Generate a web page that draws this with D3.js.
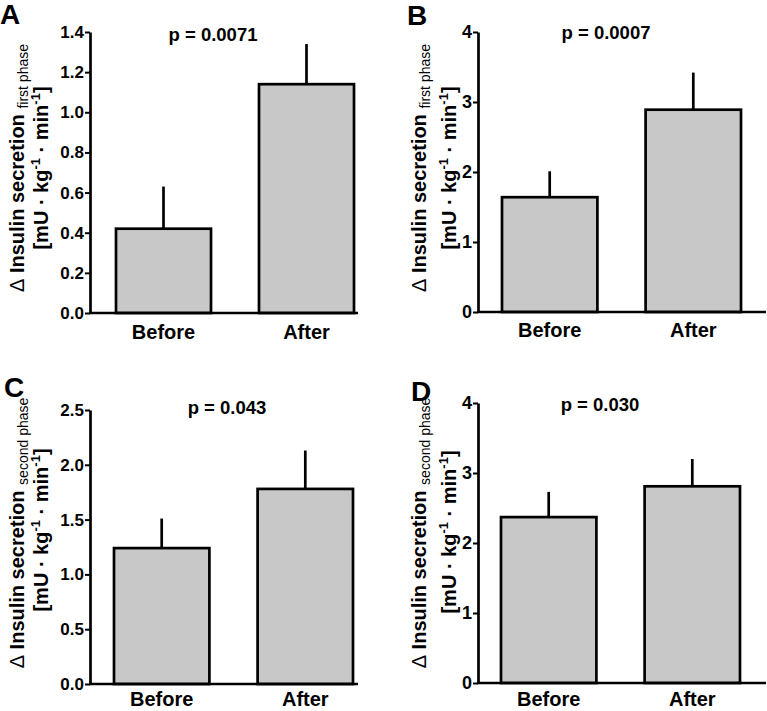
<!DOCTYPE html>
<html>
<head>
<meta charset="utf-8">
<script src="https://cdn.jsdelivr.net/npm/d3@7"></script>
<style>
  html, body { margin: 0; padding: 0; background: #fff; }
  svg { display: block; }
  text { font-family: "Liberation Sans", Arial, Helvetica, sans-serif; fill: #000; }
</style>
</head>
<body>
<svg id="chart" width="767" height="711"></svg>
<script>
// ---------------- data ----------------
const categories = ["Before", "After"];
const panelLetters = ["A", "B", "C", "D"];
const pLabels = ["p = 0.0071", "p = 0.0007", "p = 0.043", "p = 0.030"];
const phaseLabels = ["first phase", "first phase", "second phase", "second phase"];

const meanA = [0.42, 1.14];
const semA  = [0.21, 0.20];
const meanB = [1.64, 2.89];
const semB  = [0.37, 0.53];
const meanC = [1.24, 1.78];
const semC  = [0.27, 0.35];
const meanD = [2.37, 2.81];
const semD  = [0.36, 0.39];

const ticksA = [0.0, 0.2, 0.4, 0.6, 0.8, 1.0, 1.2, 1.4];
const ticksB = [0, 1, 2, 3, 4];
const ticksC = [0.0, 0.5, 1.0, 1.5, 2.0, 2.5];
const ticksD = [0, 1, 2, 3, 4];

const yMax = [1.4, 4, 2.5, 4];
const tickFormats = [".1f", "d", ".1f", "d"];

// ---------------- layout ----------------
const layouts = [
  { axisX: 90,  yTop: 32,  y0: 313, barL: 116, barR: 354, xEnd: 358, tickFs: 17,
    letterX: 0,   letterY: 24,  pX: 213, pY: 41,  xlabY: 339, l1X: 24,  l2X: 48,  l1Y: 168, l2Y: 168 },
  { axisX: 478, yTop: 32,  y0: 312, barL: 502, barR: 741, xEnd: 766, tickFs: 18,
    letterX: 407, letterY: 25,  pX: 606, pY: 39,  xlabY: 337, l1X: 426, l2X: 456, l1Y: 168, l2Y: 168 },
  { axisX: 90,  yTop: 410, y0: 684, barL: 114, barR: 353, xEnd: 358, tickFs: 17,
    letterX: 4,   letterY: 397, pX: 227, pY: 414, xlabY: 706, l1X: 24,  l2X: 48,  l1Y: 533, l2Y: 530 },
  { axisX: 478, yTop: 403, y0: 683, barL: 501, barR: 740, xEnd: 766, tickFs: 18,
    letterX: 411, letterY: 401, pX: 600, pY: 411, xlabY: 706, l1X: 426, l2X: 456, l1Y: 533, l2Y: 532 }
];

const means = [meanA, meanB, meanC, meanD];
const sems = [semA, semB, semC, semD];
const tickSets = [ticksA, ticksB, ticksC, ticksD];

const svg = d3.select("#chart");
const LW = 2.7;

layouts.forEach((L, i) => {
  const g = svg.append("g");
  const y = d3.scaleLinear().domain([0, yMax[i]]).range([L.y0, L.yTop]);
  const x = d3.scaleBand().domain(categories).range([L.barL, L.barR])
    .paddingInner(48 / 143).paddingOuter(0);

  const data = categories.map((c, k) => ({ cat: c, m: means[i][k], s: sems[i][k] }));

  // error bars (upper only)
  g.selectAll("line.err").data(data).enter().append("line")
    .attr("class", "err")
    .attr("x1", d => x(d.cat) + x.bandwidth() / 2)
    .attr("x2", d => x(d.cat) + x.bandwidth() / 2)
    .attr("y1", d => y(d.m))
    .attr("y2", d => y(d.m + d.s))
    .attr("stroke", "#000").attr("stroke-width", LW);

  // bars
  g.selectAll("rect.bar").data(data).enter().append("rect")
    .attr("class", "bar")
    .attr("x", d => x(d.cat))
    .attr("y", d => y(d.m))
    .attr("width", x.bandwidth())
    .attr("height", d => y(0) - y(d.m))
    .attr("fill", "#c8c8c8")
    .attr("stroke", "#000").attr("stroke-width", LW);

  // y axis
  const ax = g.append("g").attr("transform", `translate(${L.axisX},0)`)
    .call(d3.axisLeft(y).tickValues(tickSets[i]).tickFormat(d3.format(tickFormats[i]))
      .tickSize(5).tickSizeOuter(0).tickPadding(1));
  ax.select(".domain").attr("stroke", "#000").attr("stroke-width", LW);
  ax.selectAll(".tick line").attr("stroke", "#000").attr("stroke-width", 2);
  ax.selectAll(".tick text").attr("font-size", L.tickFs).attr("font-weight", "bold")
    .attr("font-family", '"Liberation Sans", Arial, sans-serif').attr("fill", "#000");

  // x baseline
  g.append("line")
    .attr("x1", L.axisX - 1).attr("x2", L.xEnd)
    .attr("y1", y(0)).attr("y2", y(0))
    .attr("stroke", "#000").attr("stroke-width", LW);

  // x labels
  g.selectAll("text.xl").data(categories).enter().append("text")
    .attr("class", "xl")
    .attr("x", d => x(d) + x.bandwidth() / 2)
    .attr("y", L.xlabY)
    .attr("text-anchor", "middle")
    .attr("font-size", 20).attr("font-weight", "bold")
    .text(d => d);

  // p value
  g.append("text")
    .attr("x", L.pX).attr("y", L.pY)
    .attr("text-anchor", "middle")
    .attr("font-size", 18.5).attr("font-weight", "bold")
    .text(pLabels[i]);

  // panel letter
  g.append("text")
    .attr("x", L.letterX).attr("y", L.letterY)
    .attr("font-size", 28).attr("font-weight", "bold")
    .text(panelLetters[i]);

  // y label line 1
  const t1 = g.append("text")
    .attr("transform", `translate(${L.l1X},${L.l1Y}) rotate(-90)`)
    .attr("text-anchor", "middle")
    .attr("font-size", 20).attr("font-weight", "bold");
  t1.append("tspan").attr("font-weight", "normal").text("\u0394");
  t1.append("tspan").text(" Insulin secretion ");
  t1.append("tspan").attr("font-size", 14).attr("font-weight", "normal")
    .attr("dy", 4).text(phaseLabels[i]);

  // y label line 2
  const t2 = g.append("text")
    .attr("transform", `translate(${L.l2X},${L.l2Y}) rotate(-90)`)
    .attr("text-anchor", "middle")
    .attr("font-size", 20).attr("font-weight", "bold");
  t2.append("tspan").text("[mU \u00B7 kg");
  t2.append("tspan").attr("font-size", 13).attr("dy", -8).text("-1");
  t2.append("tspan").attr("dy", 8).text(" \u00B7 min");
  t2.append("tspan").attr("font-size", 13).attr("dy", -8).text("-1");
  t2.append("tspan").attr("dy", 8).text("]");
});
</script>
</body>
</html>
